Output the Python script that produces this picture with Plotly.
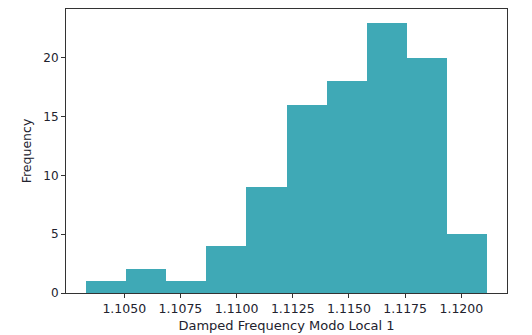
import plotly.graph_objects as go

# Histogram data
bin_start = 1.10330
bin_width = 0.001784
counts = [1, 2, 1, 4, 9, 16, 18, 23, 20, 5]
x_tick_vals = [1.1050, 1.1075, 1.1100, 1.1125, 1.1150, 1.1175, 1.1200]
x_tick_text = ["1.1050", "1.1075", "1.1100", "1.1125", "1.1150", "1.1175", "1.1200"]
y_tick_vals = [0, 5, 10, 15, 20]

left_edges = [bin_start + i * bin_width for i in range(len(counts))]

fig = go.Figure(go.Bar(
    x=left_edges,
    y=counts,
    width=[bin_width] * len(counts),
    offset=0,
    marker=dict(color="#3fa9b6", line=dict(width=0)),
))

x_lo = bin_start - 0.05 * bin_width * len(counts)
x_hi = bin_start + bin_width * len(counts) * 1.05
text_col = "#22222e"
fig.update_layout(
    width=532, height=335,
    margin=dict(l=66, r=25, t=9, b=42),
    paper_bgcolor="white", plot_bgcolor="white",
    showlegend=False,
    bargap=0,
    font=dict(family="DejaVu Sans", size=12, color=text_col),
    xaxis=dict(
        range=[x_lo, x_hi],
        automargin=False,
        tickvals=x_tick_vals, ticktext=x_tick_text,
        ticks="outside", ticklen=4, tickcolor="#333",
        showline=True, linecolor="#333", linewidth=1, mirror=True,
        showgrid=False, zeroline=False,
        title=dict(text="Damped Frequency Modo Local 1", standoff=5,
                   font=dict(size=13)),
        tickfont=dict(size=12.5),
    ),
    yaxis=dict(
        range=[0, 24.15],
        automargin=False,
        tickvals=y_tick_vals,
        ticks="outside", ticklen=4, tickcolor="#333",
        showline=True, linecolor="#333", linewidth=1, mirror=True,
        showgrid=False, zeroline=False,
        title=dict(text="Frequency", standoff=8, font=dict(size=12.5)),
        tickfont=dict(size=12),
    ),
)

fig.write_html("out.html")
